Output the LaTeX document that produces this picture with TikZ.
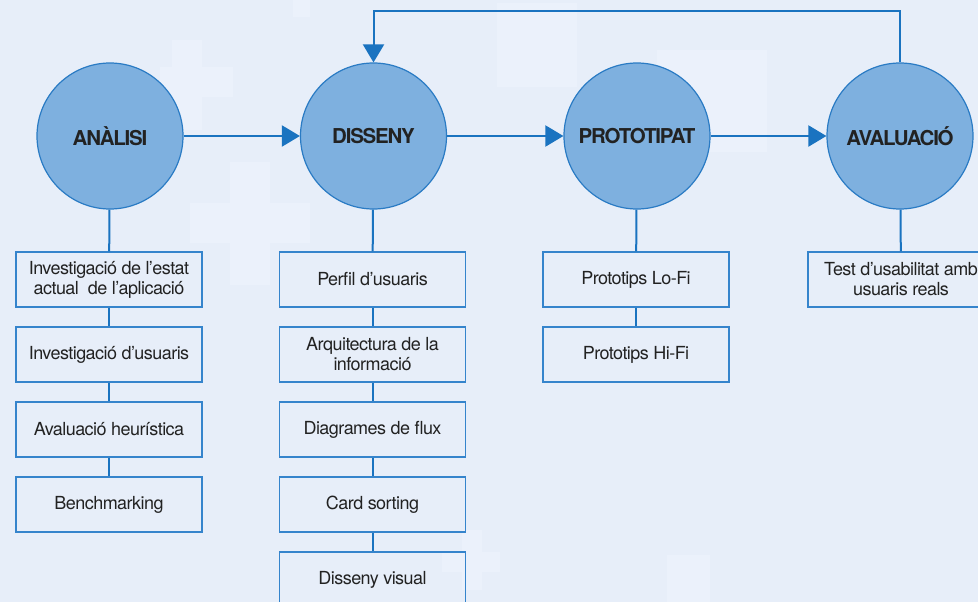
\documentclass[tikz,border=0pt]{standalone}
\usepackage{fontspec}
\setmainfont{TeX Gyre Heros}
\newfontfamily\boxfont[LetterSpace=-3]{TeX Gyre Heros}
\newfontfamily\phasefont[LetterSpace=-6]{TeX Gyre Heros}
\usetikzlibrary{arrows.meta}
\definecolor{bgc}{HTML}{E7EEF9}
\definecolor{bgl}{HTML}{EBF1FB}
\definecolor{linec}{HTML}{1A73C0}
\definecolor{circfill}{HTML}{7EB0DF}
\definecolor{circdraw}{HTML}{2A7BC4}
\definecolor{boxdraw}{HTML}{3584CC}
\definecolor{txt}{HTML}{222222}
\tikzset{
  phase/.style={circle, minimum size=146pt, inner sep=0pt, fill=circfill, draw=circdraw, line width=1.2pt,
    text=txt, font=\phasefont\fontsize{20.5}{24}\selectfont\bfseries},
  taskbox/.style={rectangle, minimum width=186pt, minimum height=55pt, inner sep=0pt, draw=boxdraw, line width=1.3pt,
    text=txt, align=center, font=\boxfont\fontsize{18}{20}\selectfont},
  link/.style={draw=linec, line width=2pt},
  flow/.style={draw=linec, line width=2pt, -{Triangle[length=18pt,width=21pt]}},
  deco/.style={fill=bgl, draw=none}
}
\begin{document}
\begin{tikzpicture}[x=1pt,y=-1pt]
\useasboundingbox (0,0) rectangle (978,602);
\clip (0,0) rectangle (978,602);
\fill[bgc] (0,0) rectangle (978,602);
% faint background crosses
\fill[deco] (172,40) rectangle (202,130);
\fill[deco] (160,67) rectangle (233,97);
\fill[deco] (230,162) rectangle (270,285);
\fill[deco] (190,203) rectangle (310,243);
\fill[deco] (293,0) rectangle (310,17);
\fill[deco] (497,3) rectangle (577,87);
\fill[deco] (657,50) rectangle (767,152);
\fill[deco] (462,530) rectangle (482,590);
\fill[deco] (442,552) rectangle (500,572);
\fill[deco] (667,555) rectangle (710,602);
% phases
\node[phase] (anal) at (110,136) {ANÀLISI};
\node[phase] (diss) at (373.5,136) {DISSENY};
\node[phase] (prot) at (637,136) {PROTOTIPAT};
\node[phase] (aval) at (900,136) {AVALUACIÓ};
% tasks
\node[taskbox] (a1) at (109,279.5) {Investigació de l’estat\\actual\ \ de l’aplicació};
\node[taskbox] (a2) at (109,354.5) {Investigació d’usuaris};
\node[taskbox] (a3) at (109,429.5) {Avaluació heurística};
\node[taskbox] (a4) at (109,504.5) {Benchmarking};
\node[taskbox] (d1) at (372.5,279.5) {Perfil d’usuaris};
\node[taskbox] (d2) at (372.5,354.5) {Arquitectura de la\\informació};
\node[taskbox] (d3) at (372.5,429.5) {Diagrames de flux};
\node[taskbox] (d4) at (372.5,504.5) {Card sorting};
\node[taskbox] (d5) at (372.5,579.5) {Disseny visual};
\node[taskbox] (p1) at (636,279.5) {Prototips Lo-Fi};
\node[taskbox] (p2) at (636,354.5) {Prototips Hi-Fi};
\node[taskbox] (v1) at (901,279.5) {Test d’usabilitat amb\\usuaris reals};
% flow arrows
\draw[flow] (anal) -- (diss);
\draw[flow] (diss) -- (prot);
\draw[flow] (prot) -- (aval);
\draw[flow] (aval.north) -- ++(0,-51) -| (diss.north);
% vertical links
\draw[link] (anal) -- (a1);
\draw[link] (a1) -- (a2);
\draw[link] (a2) -- (a3);
\draw[link] (a3) -- (a4);
\draw[link] (diss) -- (d1);
\draw[link] (d1) -- (d2);
\draw[link] (d2) -- (d3);
\draw[link] (d3) -- (d4);
\draw[link] (d4) -- (d5);
\draw[link] (prot) -- (p1);
\draw[link] (p1) -- (p2);
\draw[link] (aval) -- (v1);
\end{tikzpicture}
\end{document}
